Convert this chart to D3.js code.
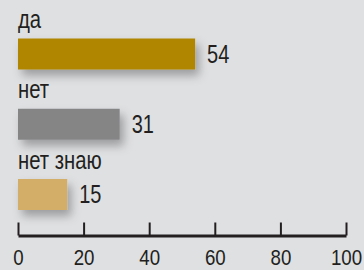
<!DOCTYPE html>
<html>
<head>
<meta charset="utf-8">
<script src="https://cdn.jsdelivr.net/npm/d3@7"></script>
<style>
  body { margin: 0; background: #dfe0e2; }
  text { font-family: "Liberation Sans", Arial, sans-serif; fill: #231f20; }
</style>
</head>
<body>
<div id="chart"></div>
<script>
  var categories = ["да", "нет", "нет знаю"];
  var values = [54, 31, 15];
  var colors = ["#b08600", "#858586", "#d2ae68"];
  var ticks = [0, 20, 40, 60, 80, 100];

  var width = 364, height = 270;

  var svg = d3.select("#chart")
    .append("svg")
    .attr("width", width)
    .attr("height", height);

  var defs = svg.append("defs");
  var f = defs.append("filter")
    .attr("id", "shadow")
    .attr("x", "-20%").attr("y", "-40%")
    .attr("width", "160%").attr("height", "220%");
  f.append("feDropShadow")
    .attr("dx", 4).attr("dy", 6)
    .attr("stdDeviation", 5)
    .attr("flood-color", "#000")
    .attr("flood-opacity", 0.3);

  var x = d3.scaleLinear().domain([0, 100]).range([18, 346]);
  var y = d3.scaleBand().domain(categories).range([38.5, 249.25]);
  var barH = 31;

  var g = svg.append("g");

  g.selectAll("rect.bar")
    .data(values)
    .enter()
    .append("rect")
    .attr("class", "bar")
    .attr("x", x(0))
    .attr("y", function(d, i){ return y(categories[i]); })
    .attr("width", function(d){ return x(d) - x(0); })
    .attr("height", barH)
    .style("fill", function(d, i){ return colors[i]; })
    .attr("filter", "url(#shadow)");

  // category labels above bars (condensed look via horizontal scale)
  g.selectAll("text.cat")
    .data(categories)
    .enter()
    .append("text")
    .attr("class", "cat")
    .attr("transform", function(d){
      return "translate(" + x(0) + "," + (y(d) - 10.5) + ") scale(0.78,1)";
    })
    .style("font-size", "26px")
    .text(function(d){ return d; });

  // values to the right
  g.selectAll("text.val")
    .data(values)
    .enter()
    .append("text")
    .attr("class", "val")
    .attr("transform", function(d, i){
      return "translate(" + (x(d) + 12) + "," + (y(categories[i]) + barH / 2 + 8.5) + ") scale(0.8,1)";
    })
    .style("font-size", "25px")
    .text(function(d){ return d; });

  var axis = d3.axisBottom(x)
    .tickValues(ticks)
    .tickSizeInner(-13)
    .tickSizeOuter(0)
    .tickPadding(14);

  var ax = svg.append("g")
    .attr("transform", "translate(0,235.5)")
    .call(axis);

  ax.select(".domain").attr("stroke", "#231f20").attr("stroke-width", 3);
  ax.selectAll(".tick line").attr("stroke", "#231f20").attr("stroke-width", 2);
  ax.selectAll(".tick text")
    .attr("fill", "#231f20")
    .attr("font-family", null)
    .attr("font-size", null)
    .attr("transform", "scale(0.85,1)")
    .style("font-size", "22px");
</script>
</body>
</html>
